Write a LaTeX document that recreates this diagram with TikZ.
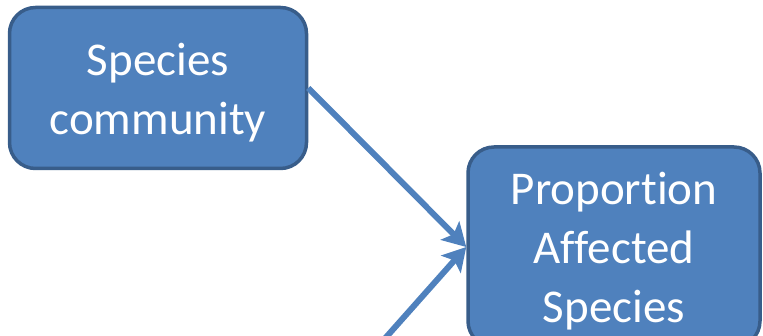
\documentclass[tikz,border=0pt]{standalone}
\usepackage{fontspec}
\setmainfont[Ligatures=NoCommon]{Carlito}
\usetikzlibrary{arrows.meta}
\definecolor{boxfill}{HTML}{4F81BD}
\definecolor{boxline}{HTML}{385D8A}
\begin{document}
\begin{tikzpicture}[x=1pt,y=-1pt,
        factor/.style={draw=boxline, fill=boxfill, line width=3.5pt, rounded corners=26pt, text=white, align=center, font=\fontsize{47}{59}\selectfont, inner sep=0pt},
        link/.style={draw=boxfill, line width=6pt, -{Stealth[length=23pt, width=26pt, inset=5pt]}}]
        \useasboundingbox (0,0) rectangle (763,336);
        \clip (0,0) rectangle (763,336);
        \node [factor, minimum width=297pt, minimum height=161pt] (comm) at (158,88) {\strut Species\\community};
        \node [factor, minimum width=292pt, minimum height=200pt] (prop) at (614,247) {\strut Proportion\\Affected\\Species};
        \coordinate (below) at (357,370);
        \draw [link] (comm.east) -- (prop.west);
        \draw [link] (below) -- (prop.west);
    \end{tikzpicture}
\end{document}
